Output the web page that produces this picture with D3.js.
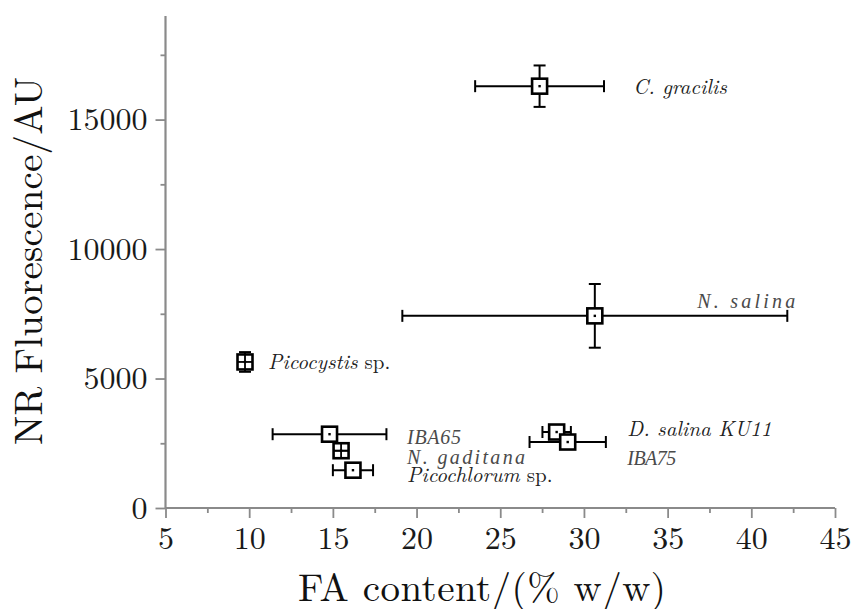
<!DOCTYPE html>
<html>
<head>
<meta charset="utf-8">
<script src="https://cdn.jsdelivr.net/npm/d3@7/dist/d3.min.js"></script>
<style>
  html, body { margin: 0; padding: 0; background: #fff; }
  svg { display: block; }
</style>
</head>
<body>
<svg id="chart" width="852" height="609"></svg>
<script>
// Strains, fatty-acid content (% w/w) and Nile Red fluorescence (AU), with SDs
const strains   = ["N. gaditana", "C. gracilis", "N. salina", "Picocystis sp.", "IBA65", "Picochlorum sp.", "D. salina KU11", "IBA75"];
const faContent = [15.49, 27.35, 30.65, 9.75, 14.8, 16.2, 28.37, 29.03];
const faSD      = [0.05, 3.85, 11.5, 0.05, 3.4, 1.2, 0.85, 2.28];
const nrFluor   = [2212, 16290, 7420, 5640, 2850, 1460, 2934, 2548];
const nrSD      = [30, 800, 1230, 380, 0, 0, 0, 0];

// Axis ticks
const xTicks = [5, 10, 15, 20, 25, 30, 35, 40, 45];
const yTicks = [0, 5000, 10000, 15000];

// Strain labels: [italic part, upright part], anchor in data units, alternate style flag
const labelText  = [["C. gracilis", ""], ["N. salina", ""], ["Picocystis", " sp."], ["IBA65", ""], ["N. gaditana", ""], ["Picochlorum", " sp."], ["D. salina KU11", ""], ["IBA75", ""]];
const labelX     = [32.94, 36.77, 11.13, 19.43, 19.43, 19.43, 32.59, 32.59];
const labelY     = [15985, 7722, 5367, 2471, 1699, 1004, 2780, 1660];
const labelAlt   = [false, true, false, true, true, false, false, true];
const labelLen   = [0, 98, 0, 54, 118, 0, 0, 49];

const MAIN = "Latin Modern Roman";
const ALT = "Liberation Serif";

const svg = d3.select("#chart").attr("font-family", MAIN);
const margin = { left: 165.5, right: 17, top: 16, bottom: 101 };
const W = 852, H = 609;

const x = d3.scaleLinear().domain([5, 45]).range([margin.left, W - margin.right]);
const y = d3.scaleLinear().domain([0, 19000]).range([H - margin.bottom, margin.top]);

const axisColor = "#8a8a8a";

function styleAxis(g) {
  g.attr("font-family", MAIN);
  g.selectAll("line").attr("stroke", axisColor).attr("stroke-width", 1.8);
  g.selectAll("text").attr("font-size", 32).attr("fill", "#1a1a1a")
    .attr("font-family", MAIN).style("font-family", MAIN);
}

// X axis with minor ticks
const xMinor = d3.range(7.5, 45, 5);
const gx = svg.append("g").attr("transform", `translate(0,${y(0)})`);
gx.append("g").call(d3.axisBottom(x).tickValues(xMinor).tickSize(5).tickFormat(""));
gx.append("g").call(d3.axisBottom(x).tickValues(xTicks).tickSize(10).tickPadding(8).tickFormat(d3.format("d")));
gx.selectAll("path.domain").remove();
gx.append("line").attr("x1", x(5)).attr("x2", x(45)).attr("y1", 0).attr("y2", 0);
styleAxis(gx);
gx.selectAll(":scope > line").attr("stroke-width", 2.2);

// Y axis with minor ticks
const yMinor = d3.range(2500, 19000, 5000);
const gy = svg.append("g").attr("transform", `translate(${x(5)},0)`);
gy.append("g").call(d3.axisLeft(y).tickValues(yMinor).tickSize(5).tickFormat(""));
gy.append("g").call(d3.axisLeft(y).tickValues(yTicks).tickSize(10).tickPadding(8).tickFormat(d3.format("d")));
gy.selectAll("path.domain").remove();
gy.append("line").attr("x1", 0).attr("x2", 0).attr("y1", y(0)).attr("y2", y(19000));
styleAxis(gy);
gy.selectAll(":scope > line").attr("stroke-width", 2.2);

// Axis titles
svg.append("text")
  .attr("x", 482).attr("y", 601)
  .attr("text-anchor", "middle")
  .attr("font-size", 39).attr("fill", "#111")
  .style("font-family", MAIN)
  .attr("textLength", 368).attr("lengthAdjust", "spacing")
  .text("FA content/(% w/w)");

svg.append("text")
  .attr("transform", "translate(42,261) rotate(-90)")
  .attr("text-anchor", "middle")
  .attr("font-size", 39).attr("fill", "#111")
  .style("font-family", MAIN)
  .attr("textLength", 368).attr("lengthAdjust", "spacing")
  .text("NR Fluorescence/AU");

// Points with error bars
const size = 15, half = size / 2, cap = 6;
const pts = svg.append("g");
strains.forEach((name, i) => {
  const cx = x(faContent[i]), cy = y(nrFluor[i]);
  const ex = x(faContent[i] + faSD[i]) - cx;
  const ey = cy - y(nrFluor[i] + nrSD[i]);
  const g = pts.append("g").attr("stroke", "#000").attr("stroke-width", 2);
  const bigX = ex > half, bigY = ey > half;
  if (bigX) {
    g.append("line").attr("x1", cx - ex).attr("x2", cx + ex).attr("y1", cy).attr("y2", cy);
    g.append("line").attr("x1", cx - ex).attr("x2", cx - ex).attr("y1", cy - cap).attr("y2", cy + cap);
    g.append("line").attr("x1", cx + ex).attr("x2", cx + ex).attr("y1", cy - cap).attr("y2", cy + cap);
  }
  if (bigY) {
    g.append("line").attr("x1", cx).attr("x2", cx).attr("y1", cy - ey).attr("y2", cy + ey);
    g.append("line").attr("x1", cx - cap).attr("x2", cx + cap).attr("y1", cy - ey).attr("y2", cy - ey);
    g.append("line").attr("x1", cx - cap).attr("x2", cx + cap).attr("y1", cy + ey).attr("y2", cy + ey);
  }
  g.append("rect")
    .attr("x", cx - half).attr("y", cy - half)
    .attr("width", size).attr("height", size)
    .attr("fill", "#fff").attr("stroke-width", 2.6);
  // error bars shorter than the symbol are drawn over it
  if (!bigX && faSD[i] > 0) {
    g.append("line").attr("x1", cx).attr("x2", cx).attr("y1", cy - half).attr("y2", cy + half).attr("stroke-width", 1.8);
    g.append("line").attr("x1", cx - half).attr("x2", cx + half).attr("y1", cy).attr("y2", cy).attr("stroke-width", 1.8);
  }
  if (!bigY && nrSD[i] > 0) {
    g.append("line").attr("x1", cx - half).attr("x2", cx + half).attr("y1", cy).attr("y2", cy).attr("stroke-width", 1.8);
  }
  g.append("rect")
    .attr("x", cx - 1.2).attr("y", cy - 1.2)
    .attr("width", 2.4).attr("height", 2.4)
    .attr("fill", "#000").attr("stroke", "none");
});

// Strain labels
const labels = svg.append("g");
labelText.forEach((parts, i) => {
  const t = labels.append("text")
    .attr("x", x(labelX[i])).attr("y", y(labelY[i]));
  if (labelAlt[i]) {
    t.style("font-family", ALT).attr("font-size", 20).attr("fill", "#4a4a4a")
     .attr("font-style", "italic")
     .attr("textLength", labelLen[i]).attr("lengthAdjust", "spacing")
     .text(parts[0]);
  } else {
    t.style("font-family", MAIN).attr("font-size", 21).attr("fill", "#222");
    t.append("tspan").attr("font-style", "italic").text(parts[0]);
    if (parts[1]) t.append("tspan").text(parts[1]);
  }
});
</script>
</body>
</html>
